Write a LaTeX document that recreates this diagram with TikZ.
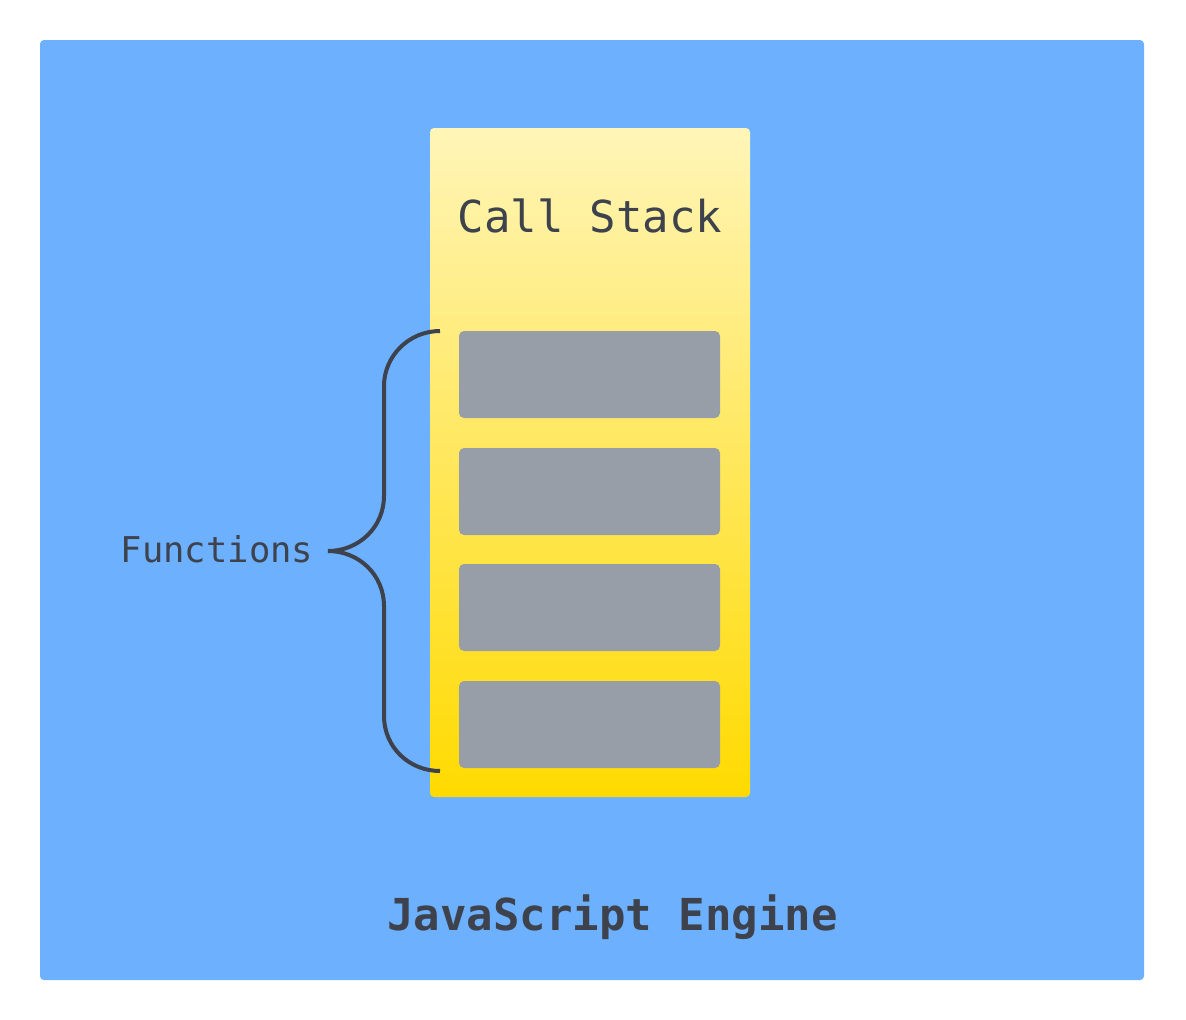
\documentclass[tikz,border=0pt]{standalone}
\usepackage{fontspec}
\usepackage{tikz}
\newfontfamily\monofont{DejaVu Sans Mono}
\definecolor{engineblue}{HTML}{6DB0FE}
\definecolor{stacktop}{HTML}{FFF5B8}
\definecolor{stackbottom}{HTML}{FFDA00}
\definecolor{framegray}{HTML}{979EA8}
\definecolor{inkdark}{HTML}{3E424C}

\begin{document}
\begin{tikzpicture}
  [x=1pt, y=-1pt,
   engine/.style={rectangle, rounded corners=4pt, fill=engineblue, minimum width=1104pt, minimum height=940pt},
   stack/.style={rectangle, rounded corners=4pt, top color=stacktop, bottom color=stackbottom, minimum width=320pt, minimum height=669pt},
   frame/.style={rectangle, rounded corners=5pt, fill=framegray, minimum width=261pt, minimum height=87pt},
   label/.style={inner sep=0pt, anchor=base, text=inkdark}]
  \useasboundingbox (0, 0) rectangle (1186, 1020);
  \node[engine] (engine) at (592, 510) {};
  \node[stack] (stack) at (590, 462.5) {};
  \foreach \i/\y in {1/374.5, 2/491.5, 3/607.5, 4/724.5}
  \node[frame] (f\i) at (589.5, \y) {};

  \node[label, font=\monofont\fontsize{44}{48}\selectfont] (title) at (590, 232) {Call Stack};
  \node[label, font=\monofont\fontsize{35.5}{40}\selectfont] (funcs) at (217, 562) {Functions};
  \node[label, font=\monofont\bfseries\fontsize{44}{48}\selectfont] (name) at (612.5, 930) {JavaScript Engine};

  % brace
  \coordinate (top) at (440, 331);
  \coordinate (tip) at (328, 551);
  \coordinate (bot) at (440, 771);
  \draw[inkdark, line width=4pt]
    (top) .. controls (409, 331) and (384, 356) .. (384, 386) -- (384, 496)
    .. controls (384, 527) and (359, 551) .. (tip)
    .. controls (359, 551) and (384, 575) .. (384, 606) -- (384, 716)
    .. controls (384, 747) and (409, 771) .. (bot);
\end{tikzpicture}
\end{document}
